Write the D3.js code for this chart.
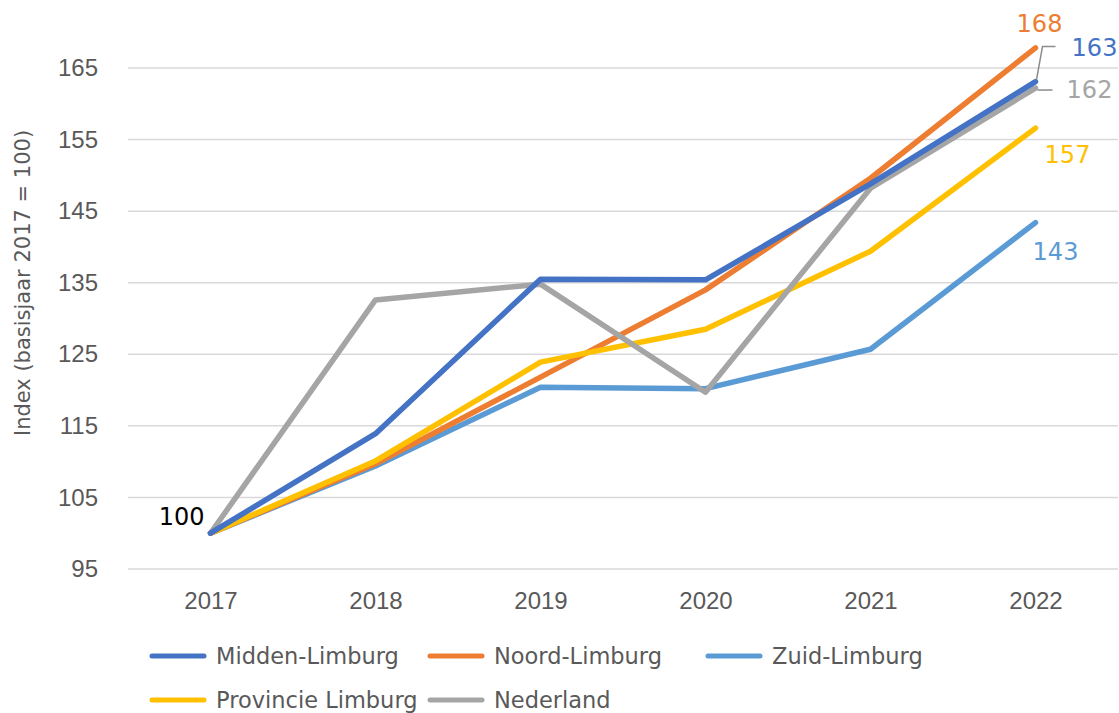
<!DOCTYPE html>
<html>
<head>
<meta charset="utf-8">
<script src="https://cdn.jsdelivr.net/npm/d3@7"></script>
<style>
  body { margin: 0; background: #fff; }
  svg { display: block; font-family: "DejaVu Sans", sans-serif; }
</style>
</head>
<body>
<svg id="chart" width="1119" height="713"></svg>
<script>
// data
var years = ["2017", "2018", "2019", "2020", "2021", "2022"];
var yTicks = [95, 105, 115, 125, 135, 145, 155, 165];

var midden = [100, 113.9, 135.5, 135.4, 148.8, 163.1];
var noord = [100, 109.7, 121.8, 134.0, 149.6, 167.8];
var zuid = [100, 109.4, 120.4, 120.2, 125.7, 143.4];
var provincie = [100, 110.1, 123.9, 128.5, 139.4, 156.6];
var nederland = [100, 132.6, 134.8, 119.7, 148.2, 162.2];

var seriesNames = ["Midden-Limburg", "Noord-Limburg", "Zuid-Limburg", "Provincie Limburg", "Nederland"];
var seriesColors = ["#4472C4", "#ED7D31", "#5B9BD5", "#FFC000", "#A5A5A5"];

var series = [
    {name: seriesNames[0], color: seriesColors[0], values: midden},
    {name: seriesNames[1], color: seriesColors[1], values: noord},
    {name: seriesNames[2], color: seriesColors[2], values: zuid},
    {name: seriesNames[3], color: seriesColors[3], values: provincie},
    {name: seriesNames[4], color: seriesColors[4], values: nederland}
];

var svg = d3.select("#chart");

var margins = {top: 68, left: 128, right: 1, bottom: 144};
var width = 1119 - margins.left - margins.right,
    height = 713 - margins.top - margins.bottom;

var x = d3.scalePoint().domain(years).range([0, width]).padding(0.5);
var y = d3.scaleLinear().domain([95, 165]).range([height, 0]);

var g = svg.append("g")
    .attr("transform", "translate(" + margins.left + "," + margins.top + ")");

// gridlines
g.append("g")
    .selectAll("line")
    .data(yTicks)
    .enter().append("line")
    .attr("x1", 0).attr("x2", width)
    .attr("y1", function(d) { return y(d); })
    .attr("y2", function(d) { return y(d); })
    .attr("stroke", "#d9d9d9")
    .attr("stroke-width", 1.5);

// y axis labels
var yAxis = g.append("g")
    .call(d3.axisLeft(y).tickValues(yTicks).tickSize(0).tickPadding(30));
yAxis.select(".domain").remove();
yAxis.selectAll("text")
    .attr("fill", "#595959")
    .style("font-size", "24px");

// x axis labels
var xAxis = g.append("g")
    .attr("transform", "translate(0," + height + ")")
    .call(d3.axisBottom(x).tickSize(0).tickPadding(23));
xAxis.select(".domain").remove();
xAxis.selectAll("text")
    .attr("fill", "#595959")
    .style("font-size", "24px");

// axis title
svg.append("text")
    .attr("transform", "translate(30,283) rotate(-90)")
    .attr("text-anchor", "middle")
    .attr("fill", "#595959")
    .style("font-size", "21px")
    .text("Index (basisjaar 2017 = 100)");

var line = d3.line()
    .x(function(d, i) { return x(years[i]); })
    .y(function(d) { return y(d); });

// drawing order (midden on top)
var order = [2, 1, 3, 4, 0];
g.selectAll(".series")
    .data(order.map(function(i) { return series[i]; }))
    .enter().append("path")
    .attr("class", "series")
    .attr("d", function(d) { return line(d.values); })
    .attr("fill", "none")
    .attr("stroke", function(d) { return d.color; })
    .attr("stroke-width", 5.5)
    .attr("stroke-linejoin", "round")
    .attr("stroke-linecap", "round");

// end labels
var lastX = x(years[5]);
var endLabels = [
    {s: series[1], dx: 4, y: y(noord[5]) - 24},
    {s: series[0], dx: 59, y: y(midden[5]) - 34},
    {s: series[4], dx: 54, y: y(nederland[5]) + 2},
    {s: series[3], dx: 32, y: y(provincie[5]) + 27},
    {s: series[2], dx: 20, y: y(zuid[5]) + 29}
];
g.selectAll(".endlabel")
    .data(endLabels)
    .enter().append("text")
    .attr("class", "endlabel")
    .attr("x", function(d) { return lastX + d.dx; })
    .attr("y", function(d) { return d.y; })
    .attr("text-anchor", "middle")
    .attr("dominant-baseline", "central")
    .attr("fill", function(d) { return d.s.color; })
    .style("font-size", "24px")
    .text(function(d) { return Math.round(d.s.values[5]); });

// leader lines for 163 and 162
var lead163 = [[lastX + 20, y(midden[5]) - 35], [lastX + 7, y(midden[5]) - 35], [lastX + 1, y(midden[5]) - 2]];
var lead162 = [[lastX + 2, y(nederland[5]) + 2], [lastX + 7, y(nederland[5]) + 2], [lastX + 17, y(nederland[5]) + 2]];
g.selectAll(".leader")
    .data([lead163, lead162])
    .enter().append("path")
    .attr("class", "leader")
    .attr("d", d3.line())
    .attr("fill", "none")
    .attr("stroke", "#8c8c8c")
    .attr("stroke-width", 1.5);

// start label
g.append("text")
    .attr("x", x(years[0]) - 6)
    .attr("y", y(100) - 16)
    .attr("text-anchor", "end")
    .attr("dominant-baseline", "central")
    .attr("fill", "#000")
    .style("font-size", "24px")
    .text("100");

// legend
var legendPos = [[150, 656], [428, 656], [706, 656], [150, 700], [428, 700]];
var legend = svg.selectAll(".legend")
    .data(series)
    .enter().append("g")
    .attr("class", "legend")
    .attr("transform", function(d, i) { return "translate(" + legendPos[i][0] + "," + legendPos[i][1] + ")"; });
legend.append("line")
    .attr("x1", 2).attr("x2", 54)
    .attr("stroke", function(d) { return d.color; })
    .attr("stroke-width", 5)
    .attr("stroke-linecap", "round");
legend.append("text")
    .attr("x", 66)
    .attr("dominant-baseline", "central")
    .attr("fill", "#595959")
    .style("font-size", "22.5px")
    .text(function(d) { return d.name; });
</script>
</body>
</html>
